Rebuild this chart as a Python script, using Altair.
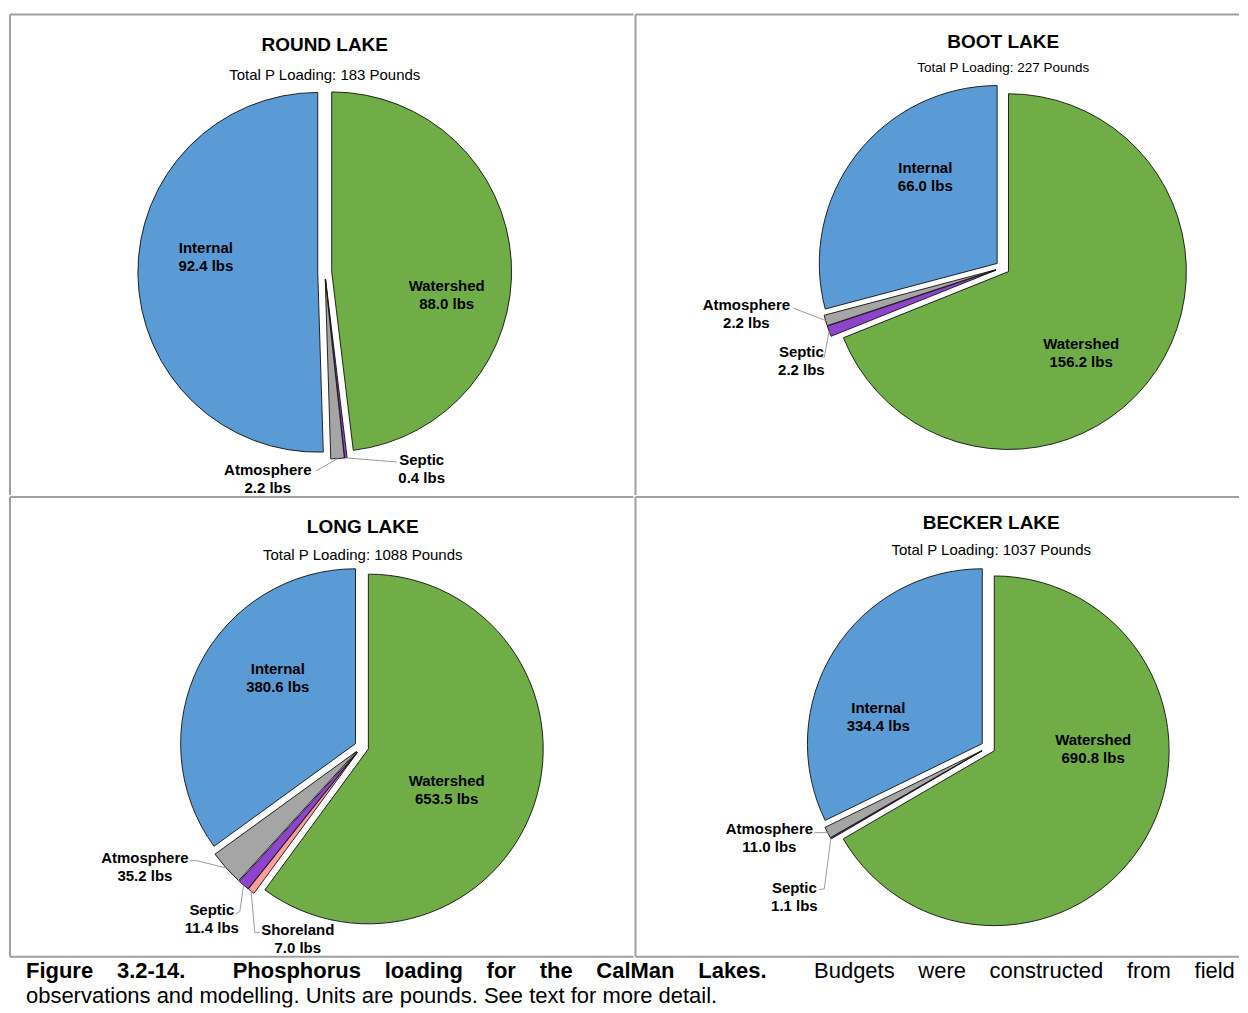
import math
import altair as alt
import pandas as pd

FONT = "Liberation Sans"

# ---------------- data ----------------
categories = ["Watershed", "Shoreland", "Septic", "Atmosphere", "Internal"]
category_colors = ["#70AD47", "#FF9C9C", "#8E44CC", "#A5A5A5", "#5B9BD5"]

lake_names = ["ROUND LAKE", "BOOT LAKE", "LONG LAKE", "BECKER LAKE"]
total_loading = [183, 227, 1088, 1037]

round_sources = ["Watershed", "Septic", "Atmosphere", "Internal"]
round_lbs = [88.0, 0.4, 2.2, 92.4]
boot_sources = ["Watershed", "Septic", "Atmosphere", "Internal"]
boot_lbs = [156.2, 2.2, 2.2, 66.0]
long_sources = ["Watershed", "Shoreland", "Septic", "Atmosphere", "Internal"]
long_lbs = [653.5, 7.0, 11.4, 35.2, 380.6]
becker_sources = ["Watershed", "Septic", "Atmosphere", "Internal"]
becker_lbs = [690.8, 1.1, 11.0, 334.4]

caption_words = ["Figure", "3.2-14.", "Phosphorus", "loading", "for", "the", "CalMan",
                 "Lakes.", "Budgets", "were", "constructed", "from", "field"]
caption_bold_count = 8
caption_line2 = "observations and modelling. Units are pounds.  See text for more detail."

# ---------------- layout (pixels inside each panel) ----------------
LEFT_W, RIGHT_W = 624, 604
TOP_H, BOT_H = 481, 460
layouts = [
    dict(w=LEFT_W, h=TOP_H, bottom=False, cx=315, cy=258, r=180, tx=315, ty=31, sy=61, ss=15,
         labels={"Watershed": (437, 272), "Internal": (196, 234),
                 "Atmosphere": (258, 456), "Septic": (412, 446)},
         leaders={"Atmosphere": [(306, 457)], "Septic": [(387, 448)]}),
    dict(w=RIGHT_W, h=TOP_H, bottom=False, cx=367.5, cy=253.5, r=178, tx=368, ty=28, sy=54, ss=13.5,
         labels={"Watershed": (446, 330), "Internal": (290, 154),
                 "Atmosphere": (111, 291), "Septic": (166, 338)},
         leaders={"Atmosphere": [(158, 294)], "Septic": [(185, 343), (189, 343)]}),
    dict(w=LEFT_W, h=BOT_H, bottom=True, cx=352, cy=250, r=175, tx=353, ty=30, sy=58, ss=15,
         labels={"Watershed": (437, 284), "Internal": (268, 172),
                 "Atmosphere": (135, 361), "Septic": (202, 413), "Shoreland": (288, 433)},
         leaders={"Atmosphere": [(180, 364), (187, 364)],
                  "Septic": [(226, 417), (230, 415)],
                  "Shoreland": [(250, 436), (245, 436)]}),
    dict(w=RIGHT_W, h=BOT_H, bottom=True, cx=353, cy=250.5, r=175, tx=356, ty=26, sy=53, ss=15,
         labels={"Watershed": (458, 243), "Internal": (243, 211),
                 "Atmosphere": (134, 332), "Septic": (159, 391)},
         leaders={"Atmosphere": [(179, 336)], "Septic": [(184, 393), (189, 392)]}),
]
EXPLODE = 7
LINE_H = 18
GRID_COLOR = "#a0a0a0"

# caption word anchors (left x in caption pixels), justified first line
caption_word_x = [16, 107.0, 222.9, 375.0, 477.0, 530.1, 586.8, 688.8,
                  804.7, 909.1, 980.4, 1117.8, 1185.5]
CAP_H = 50
CAP_SIZE = 22
CAP_Y1, CAP_Y2 = 20, 45

color_scale = alt.Scale(domain=categories, range=category_colors)


def panel(name, total, sources, values, L):
    tot = sum(values)
    rows, lab_rows, lead_rows = [], [], []
    cum = 0.0
    for i, (s, v) in enumerate(zip(sources, values)):
        frac = v / tot
        mid = 2 * math.pi * (cum + frac / 2)
        cum += frac
        rows.append(dict(cat=s, frac=frac, order=i,
                         ax=L["cx"] + EXPLODE * math.sin(mid),
                         ay=L["cy"] - EXPLODE * math.cos(mid)))
        lx, ly = L["labels"][s]
        lab_rows.append(dict(t=s, lx=lx, ly=ly))
        lab_rows.append(dict(t=f"{v:.1f} lbs", lx=lx, ly=ly + LINE_H))
        if s in L["leaders"]:
            pts = list(L["leaders"][s])
            rr = L["r"] + EXPLODE
            pts.append((L["cx"] + rr * math.sin(mid), L["cy"] - rr * math.cos(mid)))
            for k, (px, py) in enumerate(pts):
                lead_rows.append(dict(lid=s, k=k, px=px, py=py))

    slices = pd.DataFrame(rows)
    labels = pd.DataFrame(lab_rows)
    leaders = pd.DataFrame(lead_rows)
    heads = pd.DataFrame([dict(t=name, hx=L["tx"], hy=L["ty"]),
                          dict(t=f"Total P Loading: {total} Pounds", hx=L["tx"], hy=L["sy"])])
    edges = [dict(bx=0, by=0, bx2=L["w"], by2=0), dict(bx=0, by=0, bx2=0, by2=L["h"])]
    if L["bottom"]:
        edges.append(dict(bx=0, by=L["h"], bx2=L["w"], by2=L["h"]))
    borders = pd.DataFrame(edges)

    frame = alt.Chart(borders).mark_rule(color=GRID_COLOR, strokeWidth=2).encode(
        x=alt.X("bx:Q", scale=None), y=alt.Y("by:Q", scale=None),
        x2="bx2:Q", y2="by2:Q",
    )
    arcs = alt.Chart(slices).mark_arc(
        radius=L["r"], stroke="#111111", strokeWidth=0.9
    ).encode(
        theta=alt.Theta("frac:Q", stack=True,
                        scale=alt.Scale(domain=[0, 1], range=[0, 2 * math.pi])),
        order=alt.Order("order:Q"),
        color=alt.Color("cat:N", scale=color_scale, legend=None),
        x=alt.X("ax:Q", scale=None),
        y=alt.Y("ay:Q", scale=None),
    )
    lines = alt.Chart(leaders).mark_line(color="#9a9a9a", strokeWidth=1).encode(
        x=alt.X("px:Q", scale=None),
        y=alt.Y("py:Q", scale=None),
        detail="lid:N",
        order="k:Q",
    )
    texts = alt.Chart(labels).mark_text(
        font=FONT, fontSize=15, fontWeight="bold", color="#000000",
        align="center", baseline="middle"
    ).encode(
        x=alt.X("lx:Q", scale=None),
        y=alt.Y("ly:Q", scale=None),
        text="t:N",
    )
    title = alt.Chart(heads.iloc[[0]]).mark_text(
        font=FONT, fontSize=19, fontWeight="bold", color="#000000",
        align="center", baseline="middle"
    ).encode(x=alt.X("hx:Q", scale=None), y=alt.Y("hy:Q", scale=None), text="t:N")
    sub = alt.Chart(heads.iloc[[1]]).mark_text(
        font=FONT, fontSize=L["ss"], color="#000000",
        align="center", baseline="middle"
    ).encode(x=alt.X("hx:Q", scale=None), y=alt.Y("hy:Q", scale=None), text="t:N")

    return alt.layer(frame, arcs, lines, texts, title, sub).properties(
        width=L["w"], height=L["h"])


p_round = panel(lake_names[0], total_loading[0], round_sources, round_lbs, layouts[0])
p_boot = panel(lake_names[1], total_loading[1], boot_sources, boot_lbs, layouts[1])
p_long = panel(lake_names[2], total_loading[2], long_sources, long_lbs, layouts[2])
p_becker = panel(lake_names[3], total_loading[3], becker_sources, becker_lbs, layouts[3])

word_rows = [dict(t=w, cx=x, cy=CAP_Y1, wt=("bold" if i < caption_bold_count else "normal"))
             for i, (w, x) in enumerate(zip(caption_words, caption_word_x))]
word_rows.append(dict(t=caption_line2, cx=16, cy=CAP_Y2, wt="normal"))
cap_df = pd.DataFrame(word_rows)

cap_layers = []
for wt in ["bold", "normal"]:
    cap_layers.append(
        alt.Chart(cap_df[cap_df.wt == wt]).mark_text(
            font=FONT, fontSize=CAP_SIZE, fontWeight=wt, align="left",
            baseline="alphabetic", color="#000000", clip=True)
        .encode(x=alt.X("cx:Q", scale=None), y=alt.Y("cy:Q", scale=None), text="t:N")
    )
caption = alt.layer(*cap_layers).properties(width=LEFT_W + RIGHT_W, height=CAP_H)

top_row = alt.hconcat(p_round, p_boot, spacing=0)
bottom_row = alt.hconcat(p_long, p_becker, spacing=0)

chart = alt.vconcat(top_row, bottom_row, caption, spacing=0).properties(
    padding={"left": 1, "top": 5, "right": 0, "bottom": 0},
    background="white",
).configure_view(stroke=None)

chart.save("out.html", embed_options={"renderer": "svg", "actions": False})
